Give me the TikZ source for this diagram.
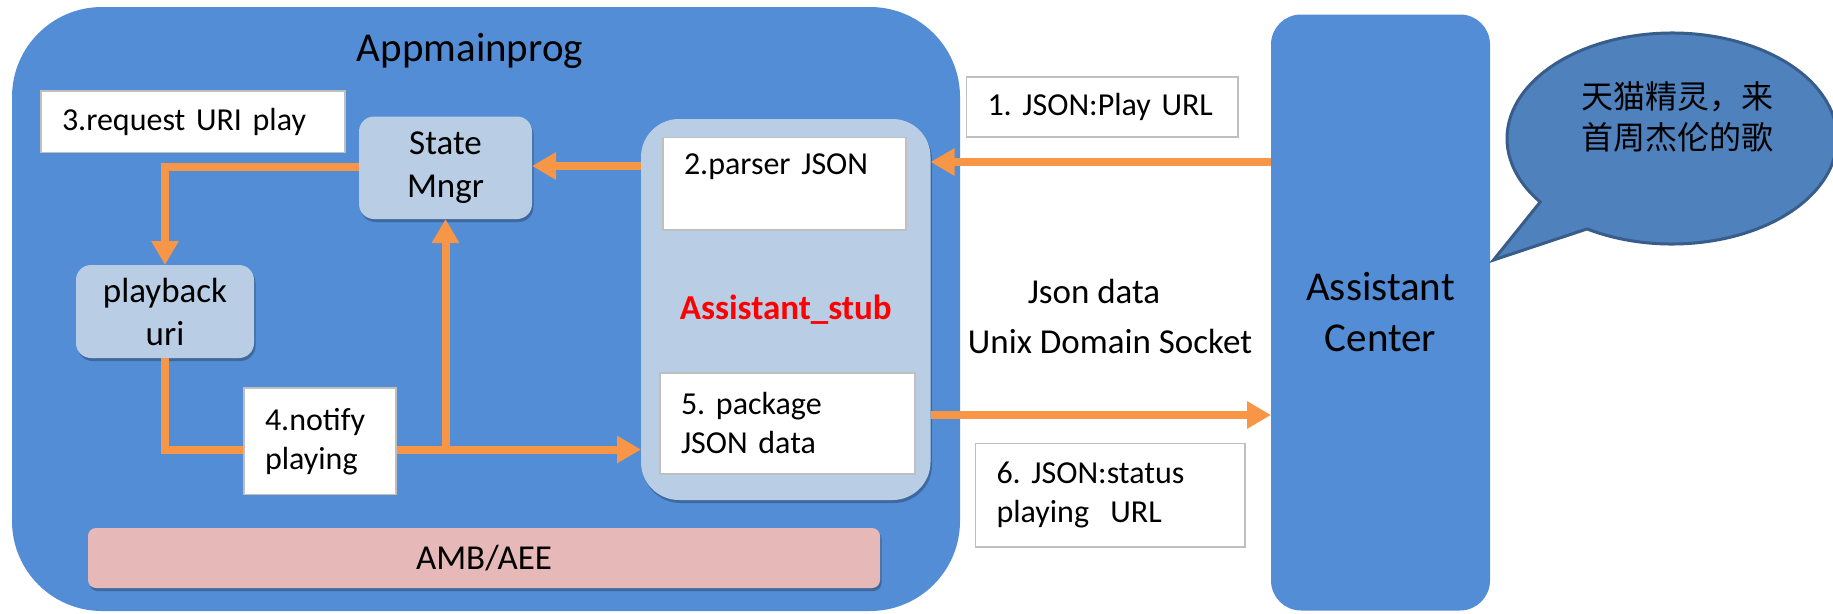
\documentclass[tikz,border=0pt]{standalone}
\usepackage{fontspec}
\setmainfont{Carlito}
\newfontfamily\cjk{Noto Sans CJK SC}
\usetikzlibrary{arrows.meta,shadows,calc}
\frenchspacing

\definecolor{mainblue}{HTML}{538DD5}
\definecolor{lightblue}{HTML}{B9CDE5}
\definecolor{pinkbar}{HTML}{E6B9B8}
\definecolor{flow}{HTML}{F79646}
\definecolor{bubblefill}{HTML}{4F81BD}
\definecolor{bubbleline}{HTML}{385D8A}
\definecolor{boxline}{HTML}{BFBFBF}
\definecolor{stubred}{HTML}{FF0000}

\begin{document}
\begin{tikzpicture}[x=1pt,y=-1pt,
  every node/.style={inner sep=0pt, outer sep=0pt},
  panel/.style={fill=mainblue},
  softshadow/.style={drop shadow={shadow xshift=1.5pt, shadow yshift=-3pt, opacity=0.25, fill=black}},
  module/.style={fill=lightblue, rounded corners=15pt, softshadow, align=center,
    font=\fontsize{35}{43}\selectfont},
  note/.style={draw=boxline, line width=1.5pt, fill=white, align=left, inner xsep=21pt,
    font=\fontsize{32}{39}\selectfont},
  label/.style={font=\fontsize{35}{43}\selectfont},
  flowarrow/.style={draw=flow, line width=8pt, -{Triangle[length=24pt,width=26pt]}},
  bubble/.style={fill=bubblefill, draw=bubbleline, line width=3pt},
]
\clip (0,0) rectangle (1833,613);
\fill[white] (0,0) rectangle (1833,613);

% application container
\node[panel, rounded corners=90pt, minimum width=948pt, minimum height=604pt] (app) at (486,309) {};
\node[anchor=base, font=\fontsize{41}{50}\selectfont] (apptitle) at (470,61) {Appmainprog};

% framework bar
\node[fill=pinkbar, rounded corners=8pt, softshadow, minimum width=792pt, minimum height=60pt,
  font=\fontsize{35}{43}\selectfont] (amb) at (484,558) {AMB/AEE};

% assistant stub with its two steps
\node[fill=lightblue, rounded corners=38pt, softshadow, minimum width=289.5pt, minimum height=381pt,
  font=\fontsize{35}{43}\selectfont\bfseries, text=stubred] (stub) at (785.75,309.5) {Assistant\_stub};
\node[note, text width=201pt, minimum height=92.5pt] (parser) at (784.5,183.75) {2.parser JSON\\ \mbox{}};
\node[note, text width=213pt, minimum height=101pt] (package) at (787.5,423.5) {5. package\\JSON data};

% internal modules
\node[module, minimum width=173pt, minimum height=102.5pt] (state) at (445.5,167.75) {State\\Mngr};
\node[module, minimum width=178pt, minimum height=93pt] (playback) at (165,311.5) {playback\\uri};
\node[note, text width=262pt, minimum height=61.5pt] (req) at (193,121.75) {3.request URI play};

% assistant center and the spoken request
\node[panel, rounded corners=30pt, minimum width=219pt, minimum height=596pt, align=center,
  font=\fontsize{41}{51}\selectfont] (ac) at (1380.5,312.5) {Assistant\\Center};

\coordinate (bc) at (1672,138.5);
\coordinate (tip) at (1493.5,260);
\path[bubble] ($(bc)+(239:165pt and 105.5pt)$)
  arc[start angle=239, end angle=577, x radius=165pt, y radius=105.5pt] -- (tip) -- cycle;
\node[align=center, font=\cjk\fontsize{32}{41}\selectfont] (speech) at (1677,116.5) {天猫精灵，来\\首周杰伦的歌};

% socket labels
\node[note, text width=229.5pt, minimum height=60pt] (msg1) at (1102.25,107) {1. JSON:Play URL};
\node[note, text width=227.5pt, minimum height=103.3pt] (msg6) at (1110.25,495.35) {6. JSON:status\\playing\ \ URL};
\node[label] (jsonlbl) at (1094,291) {Json data};
\node[label] (socklbl) at (1110,341) {Unix Domain Socket};

% message flow
\draw[flowarrow] (ac.west |- 0,162) -- (stub.east |- 0,162);
\draw[flowarrow] (stub.west |- 0,166) -- (state.east |- 0,166);
\draw[flowarrow] (state.west |- 0,167) -| (playback.north);
\draw[flowarrow] (playback.south) |- (stub.west |- 0,449.5);
\draw[flowarrow] (state.south |- 0,449.5) -- (state.south);
\draw[flowarrow] (stub.east |- 0,415) -- (ac.west |- 0,415);

\node[note, text width=110pt, minimum height=106.5pt] (notify) at (320,441.25) {4.notify\\playing};
\end{tikzpicture}
\end{document}
